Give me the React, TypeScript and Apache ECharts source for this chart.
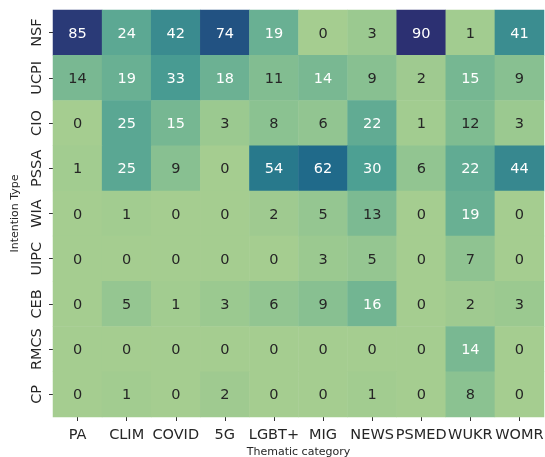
import React, { useEffect, useRef } from "react";
import * as echarts from "echarts";

const xCategories = ["PA", "CLIM", "COVID", "5G", "LGBT+", "MIG", "NEWS", "PSMED", "WUKR", "WOMR"];
const yCategories = ["NSF", "UCPI", "CIO", "PSSA", "WIA", "UIPC", "CEB", "RMCS", "CP"];

const NSF = [85, 24, 42, 74, 19, 0, 3, 90, 1, 41];
const UCPI = [14, 19, 33, 18, 11, 14, 9, 2, 15, 9];
const CIO = [0, 25, 15, 3, 8, 6, 22, 1, 12, 3];
const PSSA = [1, 25, 9, 0, 54, 62, 30, 6, 22, 44];
const WIA = [0, 1, 0, 0, 2, 5, 13, 0, 19, 0];
const UIPC = [0, 0, 0, 0, 0, 3, 5, 0, 7, 0];
const CEB = [0, 5, 1, 3, 6, 9, 16, 0, 2, 3];
const RMCS = [0, 0, 0, 0, 0, 0, 0, 0, 14, 0];
const CP = [0, 1, 0, 2, 0, 0, 1, 0, 8, 0];

const rows = [NSF, UCPI, CIO, PSSA, WIA, UIPC, CEB, RMCS, CP];

const crest = ["#a5cd90", "#85bf91", "#66ae93", "#4da093", "#3d8e90", "#2d808d", "#206e8b", "#1f5c86", "#27447b", "#2c3072"];

export default function App() {
  const ref = useRef<HTMLDivElement>(null);
  useEffect(() => {
    if (!ref.current) return;
    const chart = echarts.init(ref.current, undefined, { renderer: "svg" });
    const data: any[] = [];
    rows.forEach((row, yi) => {
      row.forEach((v, xi) => {
        const white = v >= 14 && !(yi === 1 && xi === 0);
        data.push({
          value: [xi, yi, v],
          label: { color: white ? "#ffffff" : "#262626" },
        });
      });
    });
    const font = "DejaVu Sans";
    chart.setOption({
      animation: false,
      textStyle: { fontFamily: font },
      grid: { left: 53, top: 10, width: 491, height: 407, containLabel: false, outerBoundsMode: "none" },
      xAxis: {
        type: "category",
        data: xCategories,
        name: "Thematic category",
        nameLocation: "middle",
        nameGap: 25,
        nameTextStyle: { fontSize: 11, color: "#262626", fontFamily: font },
        axisLine: { show: false },
        axisTick: { show: true, alignWithLabel: true, length: 4, lineStyle: { color: "#333" } },
        axisLabel: { fontSize: 14.5, color: "#262626", margin: 9, fontFamily: font, interval: 0 },
        splitLine: { show: false },
      },
      yAxis: {
        type: "category",
        data: yCategories,
        inverse: true,
        name: "Intention Type",
        nameLocation: "middle",
        nameGap: 32,
        nameTextStyle: { fontSize: 11, color: "#262626", fontFamily: font },
        axisLine: { show: false },
        axisTick: { show: true, alignWithLabel: true, length: 4, lineStyle: { color: "#333" } },
        axisLabel: { fontSize: 14.5, color: "#262626", rotate: 90, margin: 10, fontFamily: font, interval: 0 },
        splitLine: { show: false },
      },
      visualMap: {
        show: false,
        min: 0,
        max: 90,
        dimension: 2,
        inRange: { color: crest },
      },
      series: [
        {
          type: "heatmap",
          data,
          label: { show: true, fontSize: 14.5, fontFamily: font },
          itemStyle: { borderWidth: 0 },
          emphasis: { disabled: true },
        },
      ],
    });
    return () => chart.dispose();
  }, []);
  return <div ref={ref} style={{ position: "fixed", left: 0, top: 0, width: 545, height: 457 }} />;
}
